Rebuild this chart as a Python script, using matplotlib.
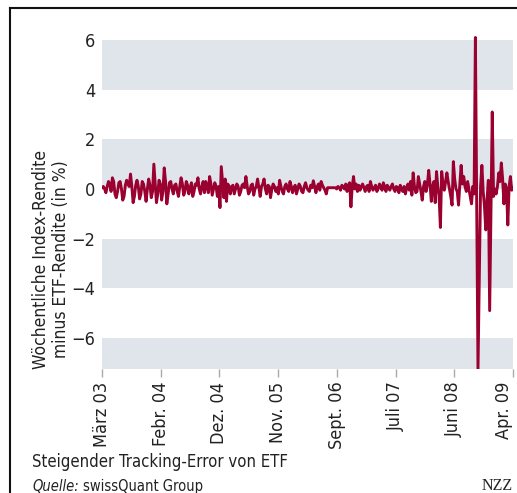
import matplotlib
matplotlib.use("Agg")
import matplotlib.pyplot as plt
from matplotlib.lines import Line2D
from matplotlib import font_manager as fm
import numpy as np

# narrow sans if there is one, otherwise Roboto
cond = fm.findfont(fm.FontProperties(family='DejaVu Sans', stretch='condensed'), fallback_to_default=False)
if 'Condensed' in cond:
    plt.rcParams['font.family'] = ['DejaVu Sans']
    plt.rcParams['font.stretch'] = 'condensed'
else:
    plt.rcParams['font.family'] = ['Roboto', 'DejaVu Sans']

# weekly difference index return minus ETF return (in %), March 2003 - April 2009
diff = [
    0.05, 0.1, 0.0, -0.15, 0.1, 0.3, 0.2, -0.1, 0.45, 0.3, -0.2, -0.35, -0.1, 0.25, 0.3, 0.0, -0.45, -0.3, 0.15, 0.35,
    0.2, 0.1, 0.6, 0.1, -0.55, -0.3, 0.15, 0.35, 0.1, -0.4, -0.2, 0.3, 0.2, -0.1, -0.5, 0.0, 0.4, 0.15, -0.35, -0.1,
    1.0, 0.2, -0.55, -0.2, 0.35, 0.2, -0.45, -0.1, 0.85, 0.3, -0.6, -0.2, 0.25, 0.3, 0.0, -0.2, 0.15, 0.2, -0.1, -0.3,
    0.1, 0.45, 0.2, -0.25, -0.1, 0.3, 0.15, -0.2, 0.05, 0.25, -0.3, -0.1, 0.2, 0.15, 0.45, 0.0, -0.2, 0.1, 0.3, -0.15,
    0.3, 0.1, -0.15, 0.5, 0.2, -0.25, 0.0, 0.25, 0.1, -0.3, 0.1, -0.75, 0.9, 0.3, -0.35, 0.4, -0.5, 0.2, 0.1, -0.2,
    0.1, 0.15, -0.2, 0.0, 0.2, 0.1, -0.25, -0.1, 0.15, 0.2, 0.05, 0.5, 0.1, -0.2, -0.1, 0.15, 0.2, -0.25, 0.0, 0.1,
    0.4, 0.05, -0.3, 0.1, 0.2, 0.4, 0.0, -0.2, 0.15, 0.1, -0.35, 0.0, 0.2, 0.1, -0.1, 0.05, -0.2, 0.35, 0.1, -0.1,
    -0.2, 0.1, 0.2, 0.0, -0.1, 0.3, 0.1, -0.15, 0.05, 0.15, -0.2, 0.0, 0.2, 0.1, -0.1, -0.15, 0.1, 0.25, 0.05, -0.05,
    -0.1, 0.15, 0.05, 0.33, 0.1, -0.15, 0.1, 0.2, -0.05, 0.3, 0.15, 0.05, -0.05, -0.2, 0.05, 0.05, 0.05, 0.05, 0.05, 0.05,
    0.05, 0.0, 0.1, 0.05, -0.05, 0.15, 0.1, 0.0, 0.2, -0.1, 0.15, 0.25, -0.72, 0.1, 0.5, 0.0, 0.2, -0.1, 0.15, -0.05,
    0.1, 0.2, 0.05, -0.1, 0.1, 0.15, -0.1, 0.3, 0.1, -0.05, 0.05, 0.15, -0.1, 0.0, 0.2, 0.1, -0.05, 0.25, 0.1, -0.1,
    0.15, 0.05, -0.05, 0.1, 0.2, 0.0, -0.1, 0.1, 0.05, -0.15, 0.15, 0.0, -0.1, 0.1, -0.2, 0.05, 0.2, -0.05, 0.3, -0.25,
    0.65, 0.1, -0.15, -0.1, 0.5, 0.2, -0.1, -0.45, 0.1, 0.3, -0.1, 0.2, 0.75, 0.2, -0.5, 0.1, 0.3, -0.55, 0.7, 0.1,
    -0.3, -1.55, 0.7, 0.2, -0.05, 0.3, 0.65, 0.3, 0.0, -0.3, -0.65, 1.1, 0.4, 0.0, -0.1, -0.65, 0.2, 0.95, 0.2, 0.5,
    0.1, -0.1, 0.3, 0.0, -0.3, -0.6, 0.1, -0.2, 6.1, -0.5, -7.25, -3.5, 0.1, 0.95, -0.1, -0.7, -1.65, -0.4, 0.35, -4.9,
    -0.9, 3.1, -0.3, 0.0, -0.2, 0.1, 0.65, 0.3, 1.05, 0.4, -0.6, 0.2, 0.0, -1.45, 0.1, 0.5, -0.05, 0.05,
]
tick_labels = ["März 03", "Febr. 04", "Dez. 04", "Nov. 05", "Sept. 06", "Juli 07", "Juni 08", "Apr. 09"]
y_ticks = [-6, -4, -2, 0, 2, 4, 6]
bands = [(4, 6), (0, 2), (-4, -2), (-7.25, -6)]

weeks = np.arange(len(diff))
txt = '#222222'

fig = plt.figure(figsize=(5.17, 4.93), dpi=100)
ax = fig.add_axes([102 / 517, 1 - 369 / 493, 411 / 517, 334 / 493])

for lo, hi in bands:
    ax.axhspan(lo, hi, color='#dfe5ea', lw=0, zorder=0)

ax.plot(weeks, diff, color='#9a0030', lw=2.1, solid_joinstyle='round', zorder=3)

ax.set_xlim(0, len(diff) - 1)
ax.set_ylim(-7.25, 6.2)
for s in ax.spines.values():
    s.set_visible(False)

ax.set_yticks(y_ticks)
ax.set_yticklabels([str(t).replace('-', '\u2212') for t in y_ticks])
ax.tick_params(axis='y', length=0, pad=5, labelsize=13, labelcolor=txt)

ax.set_xticks(np.linspace(0, len(diff) - 1, len(tick_labels)))
ax.set_xticklabels(tick_labels, rotation=90)
ax.tick_params(axis='x', length=6, width=1, color='#aaaaaa', pad=3, labelsize=13, labelcolor=txt)
ax.get_xticklabels()[-1].set_horizontalalignment('right')

fig.text(51 / 517, 1 - 259 / 493, "Wöchentliche Index-Rendite\nminus ETF-Rendite (in %)",
         rotation=90, ha='center', va='center', multialignment='center',
         fontsize=12.5, color=txt, linespacing=1.2)

fig.text(32 / 517, 1 - 467 / 493, "Steigender Tracking-Error von ETF",
         ha='left', va='baseline', fontsize=12, color=txt)
q = fig.text(32 / 517, 1 - 479 / 493, "Quelle:", style='italic',
             ha='left', va='top', fontsize=10.5, color=txt)
fig.canvas.draw()
qx = q.get_window_extent().x1 / fig.bbox.width
fig.text(qx + 4 / 517, 1 - 479 / 493, "swissQuant Group",
         ha='left', va='top', fontsize=10.5, color=txt)
fig.text(513 / 517, 1 - 478 / 493, "NZZ", family='Liberation Serif',
         ha='right', va='top', fontsize=11.5, color=txt)

# frame lines at top and left
fig.add_artist(Line2D([10 / 517, 1], [1 - 8 / 493, 1 - 8 / 493], color='#111111', lw=1.5))
fig.add_artist(Line2D([10 / 517, 10 / 517], [0, 1 - 8 / 493], color='#111111', lw=1.5))

fig.savefig("out.png", dpi=100)
